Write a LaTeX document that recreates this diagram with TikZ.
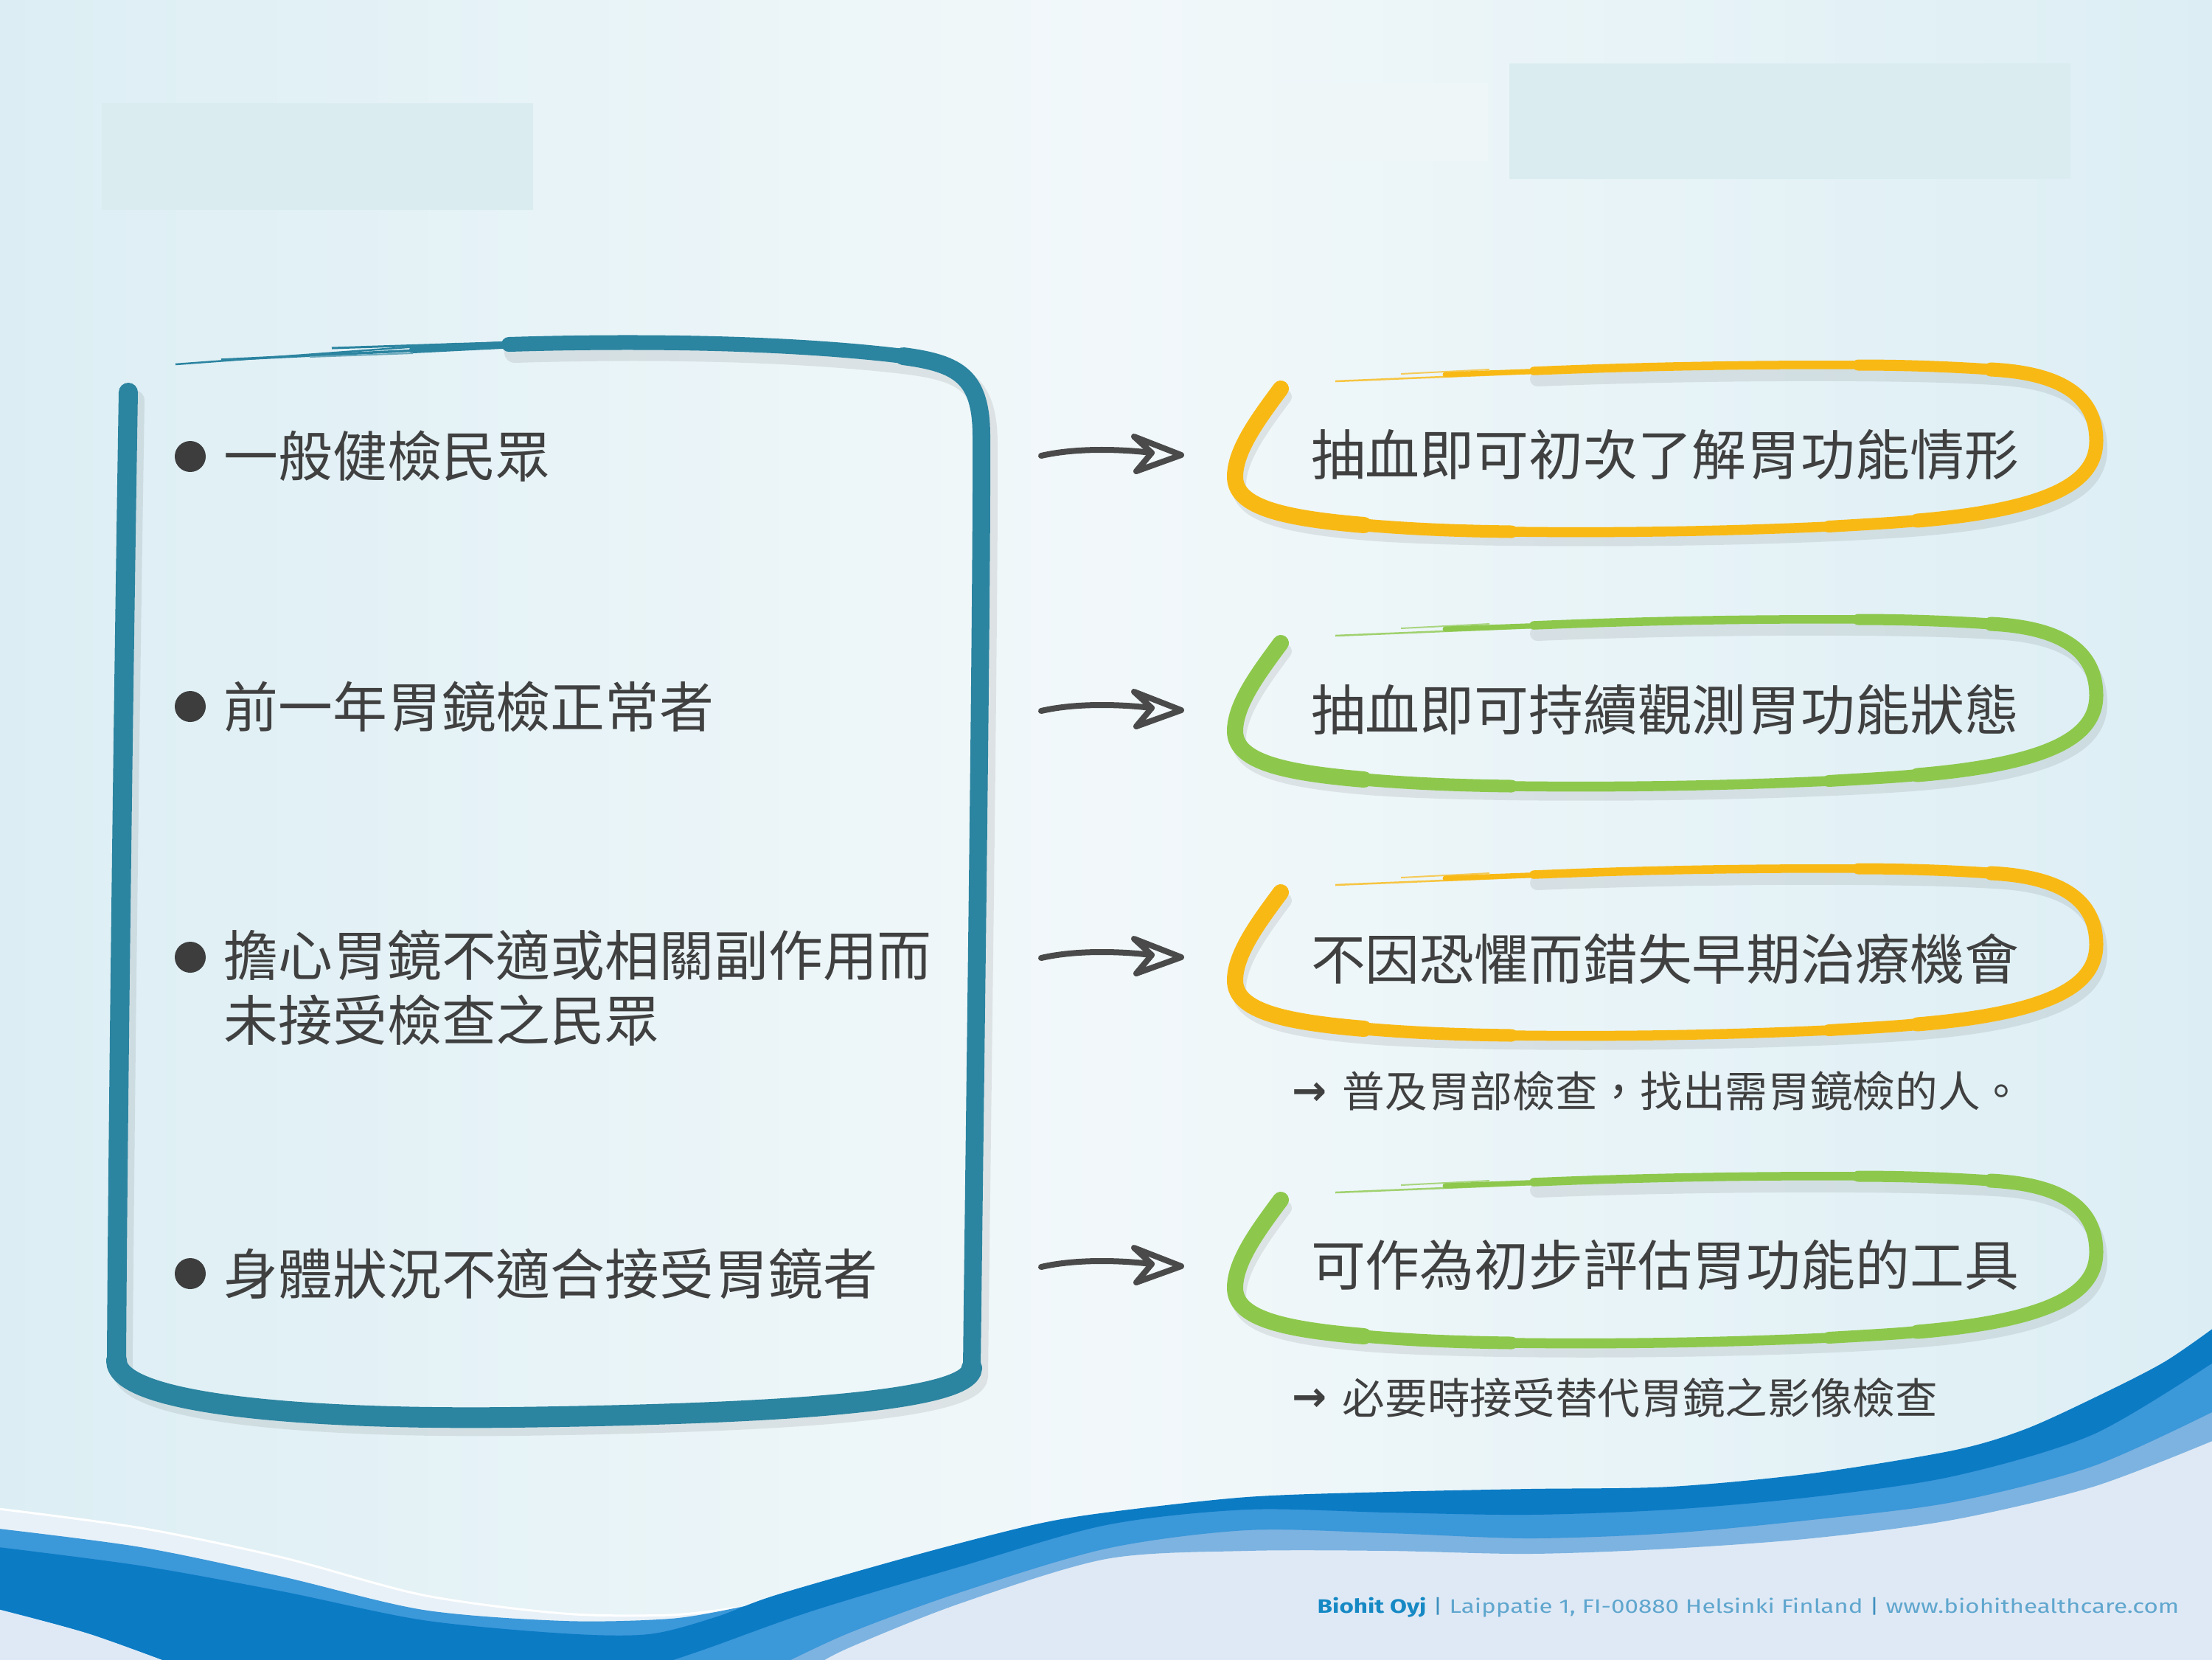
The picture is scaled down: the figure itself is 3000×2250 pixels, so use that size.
\documentclass[tikz,border=0pt]{standalone}
\usepackage{fontspec}
\usepackage{graphicx}
\newfontfamily\cjk{Noto Sans CJK TC}
\newfontfamily\footfont{Fira Sans}
\newfontfamily\dvfont{DejaVu Sans}
\definecolor{bgedge}{HTML}{DCEEF4}
\definecolor{bgmid}{HTML}{F2F8FA}
\definecolor{rectc}{HTML}{DAECEF}
\definecolor{rectl}{HTML}{EEF6F8}
\definecolor{boxteal}{HTML}{2B84A0}
\definecolor{ovyellow}{HTML}{F9B915}
\definecolor{ovgreen}{HTML}{8DC84C}
\definecolor{txt}{HTML}{404040}
\definecolor{arrc}{HTML}{4A4A4A}
\definecolor{wdark}{HTML}{0B7BC4}
\definecolor{wmed}{HTML}{3B98D9}
\definecolor{wlight}{HTML}{7DB3E1}
\definecolor{wbase}{HTML}{DFE9F5}
\definecolor{wpale}{HTML}{E8F1F8}
\definecolor{fbold}{HTML}{1689C4}
\definecolor{frest}{HTML}{5FA6CE}
\definecolor{fsep}{HTML}{3D8FBD}

\newcommand{\brushoval}[2]{%
\begin{scope}[shift={(0,#1)}]
 \begin{scope}[shift={(5,11)}]
 \draw[black, opacity=0.08, line width=0.2cm, line cap=round] (1737,527) .. controls (1705,570) and (1676,610) .. (1675,645) .. controls (1674,685) and (1730,702) .. (1850,712) .. controls (2000,724) and (2400,722) .. (2600,706) .. controls (2790,690) and (2843,650) .. (2843,598) .. controls (2843,540) and (2800,506) .. (2700,501) .. controls (2550,492) and (2250,496) .. (2080,503);
 \end{scope}
 \draw[#2, line width=0.22cm, line cap=round] (1737,527) .. controls (1705,570) and (1676,610) .. (1675,645) .. controls (1674,685) and (1730,702) .. (1850,712);
 \draw[#2, line width=0.17cm, line cap=round] (1850,712) .. controls (1920,718) and (1980,720) .. (2050,721);
 \draw[#2, line width=0.135cm, line cap=round] (2050,721) .. controls (2200,723) and (2350,720) .. (2480,714);
 \draw[#2, line width=0.16cm, line cap=round] (2480,714) .. controls (2530,711) and (2570,709) .. (2600,706);
 \draw[#2, line width=0.19cm, line cap=round] (2600,706) .. controls (2790,690) and (2843,650) .. (2843,598) .. controls (2843,540) and (2800,506) .. (2700,501);
 \draw[#2, line width=0.15cm, line cap=round] (2700,501) .. controls (2640,497) and (2580,495) .. (2520,495);
 \draw[#2, line width=0.115cm, line cap=round] (2520,495) .. controls (2380,494) and (2220,497) .. (2080,503);
 \draw[#2, line width=0.07cm, line cap=round] (2095,503) -- (1960,508);
 \draw[#2, line width=0.025cm, opacity=.8] (2080,506) -- (1811,517);
 \draw[#2, line width=0.02cm, opacity=.7] (2020,501) -- (1900,507);
\end{scope}}

\newcommand{\sketcharrow}[2]{%
\begin{scope}[shift={(0,#2)}]
 \coordinate (#1s) at (1412,618);
 \coordinate (#1e) at (1562,614);
 \coordinate (#1t) at (1602,617);
 \draw[arr] (#1s) .. controls (1460,607) and (1520,609) .. (#1e);
 \draw[arr] (1538,592) -- (#1t) -- (1541,639) -- (#1e) -- cycle;
\end{scope}}

\begin{document}
\begin{tikzpicture}[x=0.01cm,y=-0.01cm,
  ltext/.style={anchor=west, inner sep=0pt, text=txt, font=\cjk\fontsize{21}{25}\selectfont, align=left},
  rtext/.style={anchor=center, inner sep=0pt, text=txt, font=\cjk\fontsize{21}{25}\selectfont},
  stext/.style={anchor=west, inner sep=0pt, text=txt, font=\cjk\fontsize{16.4}{20}\selectfont},
  sarr/.style={anchor=west, inner sep=0pt, text=txt, font=\dvfont\bfseries\fontsize{16}{20}\selectfont},
  arr/.style={draw=arrc, line width=0.08cm, line cap=round, line join=round},
  bullet/.style={fill=txt!95!black}
]
\useasboundingbox (0,0) rectangle (3000,2250);
% background
\shade[left color=bgedge, right color=bgedge, middle color=bgmid] (0,0) rectangle (3000,2250);
\fill[rectc] (138,140) rectangle (723,285);
\fill[rectl] (1731,113) rectangle (2018,218);
\fill[rectc] (2047,86) rectangle (2808,243);

% waves
\fill[wbase] plot[smooth] coordinates {(3010,1950) (2839,2016) (2648,2061) (2457,2086) (2265,2100) (2074,2107) (1883,2103) (1691,2103) (1500,2114) (1300,2175) (1150,2235) (1100,2262)} -- (3010,2262) -- cycle;
\fill[wbase] plot[smooth] coordinates {(-10,2180) (120,2215) (250,2262)} -- (-10,2262) -- cycle;
\fill[wpale] plot[smooth] coordinates {(-10,2045) (191,2072) (383,2112) (574,2163) (765,2188) (909,2190) (1000,2180)} -- plot[smooth] coordinates {(1000,2180) (909,2195) (765,2198) (574,2183) (383,2138) (191,2098) (-10,2072)} -- cycle;
\draw[white, line width=0.03cm] plot[smooth] coordinates {(-10,2045) (191,2072) (383,2112) (574,2163) (765,2188) (909,2190) (1000,2180)};
\fill[wlight] plot[smooth] coordinates {(1000,2200) (1052,2171) (1244,2116) (1400,2076) (1500,2059) (1691,2038) (1883,2031) (2074,2027) (2265,2024) (2457,2006) (2648,1975) (2744,1947) (2839,1904) (2935,1855) (3010,1803)} -- (3010,1950) -- plot[smooth] coordinates {(3010,1950) (2839,2016) (2648,2061) (2457,2086) (2265,2100) (2074,2107) (1883,2103) (1691,2103) (1500,2114) (1300,2175) (1150,2235) (1100,2262)} -- (950,2262) -- cycle;
\fill[wmed] plot[smooth] coordinates {(-10,2072) (191,2098) (383,2138) (574,2183) (765,2198) (909,2195) (1000,2180) (1052,2167) (1244,2112) (1400,2072) (1500,2055) (1691,2034) (1883,2027) (2074,2023) (2265,2020) (2457,2002) (2648,1971) (2744,1943) (2839,1900) (2935,1851) (3010,1799)} -- (3010,1910) -- plot[smooth] coordinates {(3010,1910) (2839,1988) (2648,2037) (2457,2061) (2265,2079) (2074,2086) (1883,2079) (1691,2075) (1500,2100) (1300,2160) (1150,2215) (1050,2262)} -- (250,2262) -- plot[smooth] coordinates {(250,2262) (120,2215) (-10,2180)} -- cycle;
\fill[wdark] plot[smooth] coordinates {(-10,2097) (190,2123) (383,2158) (574,2197) (765,2215) (880,2216) (970,2193) (1052,2163) (1244,2108) (1400,2068) (1500,2051) (1691,2030) (1883,2023) (2074,2019) (2265,2016) (2457,1998) (2648,1967) (2744,1939) (2839,1896) (2935,1847) (3010,1795)} -- (3010,1842) -- plot[smooth] coordinates {(3010,1842) (2839,1945) (2648,2002) (2457,2030) (2265,2047) (2074,2054) (1883,2051) (1691,2047) (1500,2068) (1300,2125) (1100,2185) (960,2235) (880,2262)} -- (250,2262) -- plot[smooth] coordinates {(250,2262) (120,2215) (-10,2180)} -- cycle;

% left box: shadow
\begin{scope}[shift={(8,11)}]
\draw[black, opacity=0.08, line width=0.28cm, line cap=round] (174,532) .. controls (168,900) and (160,1500) .. (158,1845) .. controls (158,1905) and (420,1925) .. (690,1922) .. controls (1000,1918) and (1316,1905) .. (1318,1855) .. controls (1322,1500) and (1332,800) .. (1331,592) .. controls (1331,512) and (1302,493) .. (1225,483) .. controls (1060,463) and (850,462) .. (690,467);
\end{scope}
% left box
\draw[boxteal, line width=0.26cm, line cap=round] (174,532) .. controls (168,900) and (160,1500) .. (158,1845);
\draw[boxteal, line width=0.28cm, line cap=round] (158,1845) .. controls (158,1905) and (420,1925) .. (690,1922) .. controls (1000,1918) and (1316,1905) .. (1318,1855);
\draw[boxteal, line width=0.24cm, line cap=round] (1318,1855) .. controls (1322,1500) and (1332,800) .. (1331,592) .. controls (1331,512) and (1302,493) .. (1225,483);
\draw[boxteal, line width=0.2cm, line cap=round] (1225,483) .. controls (1060,463) and (850,462) .. (690,467);
\draw[boxteal, line width=0.1cm, line cap=round] (700,467) -- (560,474);
\draw[boxteal, line width=0.035cm] (690,469) -- (300,488);
\draw[boxteal, line width=0.025cm] (620,466) -- (238,494);
\draw[boxteal, line width=0.03cm] (760,462) -- (450,472);
\draw[boxteal!70, line width=0.02cm] (560,479) -- (420,484);

% bullets and left texts
\fill[bullet] (258,619) circle (21);
\fill[bullet] (258,958) circle (21);
\fill[bullet] (258,1298) circle (21);
\fill[bullet] (258,1727) circle (21);
\node[ltext] (l1) at (303,619) {一般健檢民眾};
\node[ltext] (l2) at (303,958) {前一年胃鏡檢正常者};
\node[ltext] (l3) at (303,1340) {擔心胃鏡不適或相關副作用而\\未接受檢查之民眾};
\node[ltext] (l4) at (303,1727) {身體狀況不適合接受胃鏡者};

% arrows
\sketcharrow{a1}{0}
\sketcharrow{a2}{346}
\sketcharrow{a3}{681}
\sketcharrow{a4}{1100}

% ovals
\brushoval{0}{ovyellow}
\brushoval{345}{ovgreen}
\brushoval{683}{ovyellow}
\brushoval{1100}{ovgreen}
\node[rtext] (r1) at (2258,617) {抽血即可初次了解胃功能情形};
\node[rtext] (r2) at (2258,962) {抽血即可持續觀測胃功能狀態};
\node[rtext] (r3) at (2258,1300) {不因恐懼而錯失早期治療機會};
\node[rtext] (r4) at (2258,1715) {可作為初步評估胃功能的工具};

% sub notes
\node[sarr] (n3a) at (1752,1483) {→};
\node[stext] (n3) at (1820,1480) {普及胃部檢查，找出需胃鏡檢的人。};
\node[sarr] (n4a) at (1752,1898) {→};
\node[stext] (n4) at (1820,1895) {必要時接受替代胃鏡之影像檢查};

% footer
\node[anchor=west, inner sep=0pt] (foot) at (1786,2180) {\resizebox{11.68cm}{\height}{\footfont\fontsize{7.5}{9}\selectfont\textcolor{fbold}{\bfseries Biohit Oyj} \textcolor{fsep}{|} \textcolor{frest}{Laippatie 1, FI-00880 Helsinki Finland} \textcolor{fsep}{|} \textcolor{frest}{www.biohithealthcare.com}}};
\end{tikzpicture}
\end{document}
